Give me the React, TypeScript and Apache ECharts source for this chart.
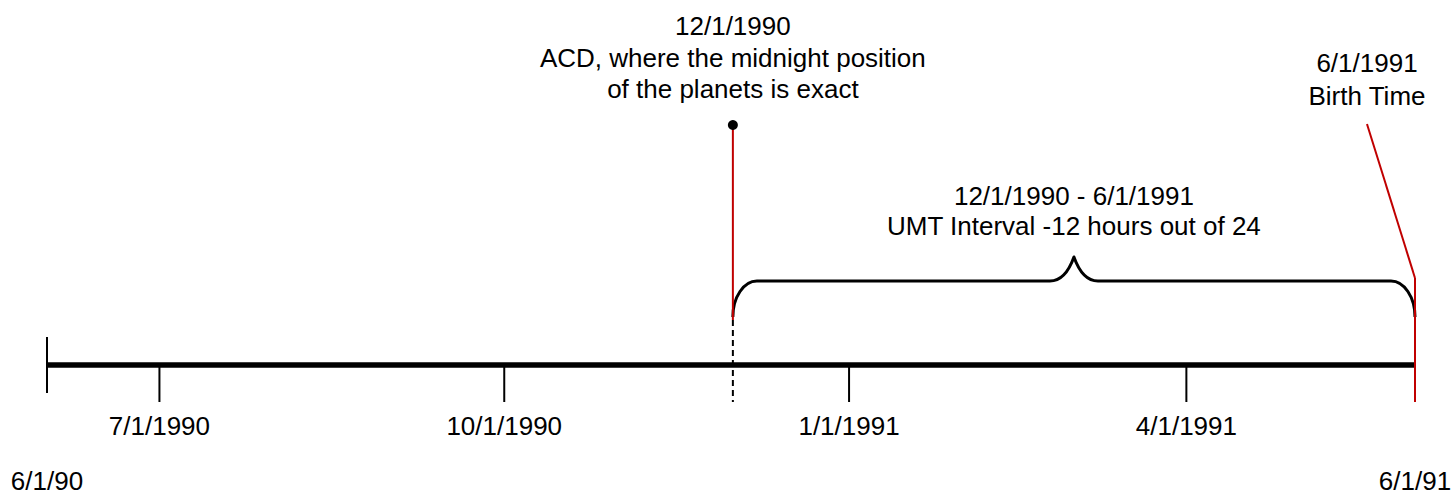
import React, { useEffect, useRef } from 'react';
import * as echarts from 'echarts';

// ---- Data ----
const timelineStart = '1990-06-01';
const timelineEnd = '1991-06-01';
const tickDates = ['1990-07-01', '1990-10-01', '1991-01-01', '1991-04-01'];
const tickLabels = ['7/1/1990', '10/1/1990', '1/1/1991', '4/1/1991'];
const endLabels = ['6/1/90', '6/1/91'];
const acdDate = '1990-12-01';
const acdLines = ['12/1/1990', 'ACD, where the midnight position', 'of the planets is exact'];
const birthDate = '1991-06-01';
const birthLines = ['6/1/1991', 'Birth Time'];
const intervalLines = ['12/1/1990 - 6/1/1991', 'UMT Interval -12 hours out of 24'];

const ts = (d: string) => new Date(d + 'T00:00:00Z').getTime();

// ---- Layout (vertical levels, in px of the 496px-tall plot) ----
const AXIS_Y = 365;
const FONT = '26px "Liberation Sans", Arial, Helvetica, sans-serif';
const RED = '#c00000';

function txt(text: string, x: number, y: number) {
  return {
    type: 'text',
    style: {
      text,
      x,
      y,
      font: FONT,
      fill: '#000',
      align: 'center',
      verticalAlign: 'middle',
      textAlign: 'center',
      textVerticalAlign: 'middle',
    },
  };
}

function line(x1: number, y1: number, x2: number, y2: number, stroke: string, lineWidth: number, lineDash?: number[]) {
  return {
    type: 'line',
    shape: { x1, y1, x2, y2 },
    style: { stroke, lineWidth, lineDash, fill: null },
  };
}

export default function App() {
  const ref = useRef<HTMLDivElement>(null);

  useEffect(() => {
    if (!ref.current) return;
    const chart = echarts.init(ref.current, null, { renderer: 'svg' });
    const px = (api: any, t: number) => api.coord([t, 0])[0];
    const py = (api: any, v: number) => api.coord([0, v])[1];

    const option: any = {
      animation: false,
      backgroundColor: '#ffffff',
      grid: { left: 47, right: 37, top: 0, bottom: 0 },
      xAxis: { type: 'value', min: ts(timelineStart), max: ts(timelineEnd), show: false },
      yAxis: { type: 'value', min: 0, max: 496, inverse: true, show: false },
      series: [
        {
          name: 'timeline',
          type: 'line',
          symbol: 'none',
          data: [[ts(timelineStart), AXIS_Y], [ts(timelineEnd), AXIS_Y]],
          lineStyle: { color: '#000', width: 5.5 },
          z: 2,
        },
        {
          name: 'ticks',
          type: 'custom',
          data: tickDates.map((d, i) => [ts(d), i]),
          renderItem: (params: any, api: any) => {
            const x = px(api, api.value(0));
            const i = api.value(1);
            return {
              type: 'group',
              children: [
                line(x, py(api, AXIS_Y), x, py(api, 402), '#000', 2),
                txt(tickLabels[i], x, py(api, 426)),
              ],
            };
          },
          z: 3,
        },
        {
          name: 'ends',
          type: 'custom',
          data: [[ts(timelineStart), 0], [ts(timelineEnd), 1]],
          renderItem: (params: any, api: any) => {
            const x = px(api, api.value(0));
            const i = api.value(1);
            const children: any[] = [txt(endLabels[i], x, py(api, 481))];
            if (i === 0) {
              children.push(line(x, py(api, 337), x, py(api, 393), '#000', 2));
            }
            return { type: 'group', children };
          },
          z: 3,
        },
        {
          name: 'interval',
          type: 'custom',
          data: [[ts(acdDate), ts(birthDate)]],
          renderItem: (params: any, api: any) => {
            const x0 = px(api, api.value(0));
            const x1 = px(api, api.value(1));
            const m = (x0 + x1) / 2;
            const yb = py(api, 317);
            const yf = py(api, 281);
            const yp = py(api, 257);
            const d = [
              `M${x0},${yb}`,
              `C${x0},${yb - 20} ${x0 + 11},${yf} ${x0 + 24},${yf}`,
              `L${m - 24},${yf}`,
              `C${m - 12},${yf} ${m - 5},${yf - 10} ${m},${yp}`,
              `C${m + 5},${yf - 10} ${m + 12},${yf} ${m + 24},${yf}`,
              `L${x1 - 24},${yf}`,
              `C${x1 - 11},${yf} ${x1},${yb - 20} ${x1},${yb}`,
            ].join(' ');
            return {
              type: 'group',
              children: [
                {
                  type: 'path',
                  shape: { pathData: d },
                  style: { stroke: '#000', lineWidth: 3, fill: 'none', lineJoin: 'round' },
                },
                txt(intervalLines[0], m, py(api, 196)),
                txt(intervalLines[1], m, py(api, 226)),
              ],
            };
          },
          z: 4,
        },
        {
          name: 'acd',
          type: 'custom',
          data: [[ts(acdDate), 0]],
          renderItem: (params: any, api: any) => {
            const x = px(api, api.value(0));
            return {
              type: 'group',
              children: [
                line(x, py(api, 320), x, py(api, 402), '#000', 2, [6, 4]),
                line(x, py(api, 125), x, py(api, 320), RED, 2),
                { type: 'circle', shape: { cx: x, cy: py(api, 125), r: 5 }, style: { fill: '#000' } },
                txt(acdLines[0], x, py(api, 26)),
                txt(acdLines[1], x, py(api, 58)),
                txt(acdLines[2], x, py(api, 89)),
              ],
            };
          },
          z: 5,
        },
        {
          name: 'birth',
          type: 'custom',
          data: [[ts(birthDate), 0]],
          renderItem: (params: any, api: any) => {
            const x = px(api, api.value(0));
            const xl = x - 48;
            return {
              type: 'group',
              children: [
                line(x, py(api, 278), x, py(api, 402), RED, 2),
                line(x, py(api, 278), xl, py(api, 124), RED, 2),
                txt(birthLines[0], xl, py(api, 63)),
                txt(birthLines[1], xl, py(api, 96)),
              ],
            };
          },
          z: 5,
        },
      ],
    };
    chart.setOption(option);
    return () => chart.dispose();
  }, []);

  return (
    <div
      ref={ref}
      style={{ position: 'absolute', left: 0, top: 0, width: 1452, height: 496, background: '#fff' }}
    />
  );
}
